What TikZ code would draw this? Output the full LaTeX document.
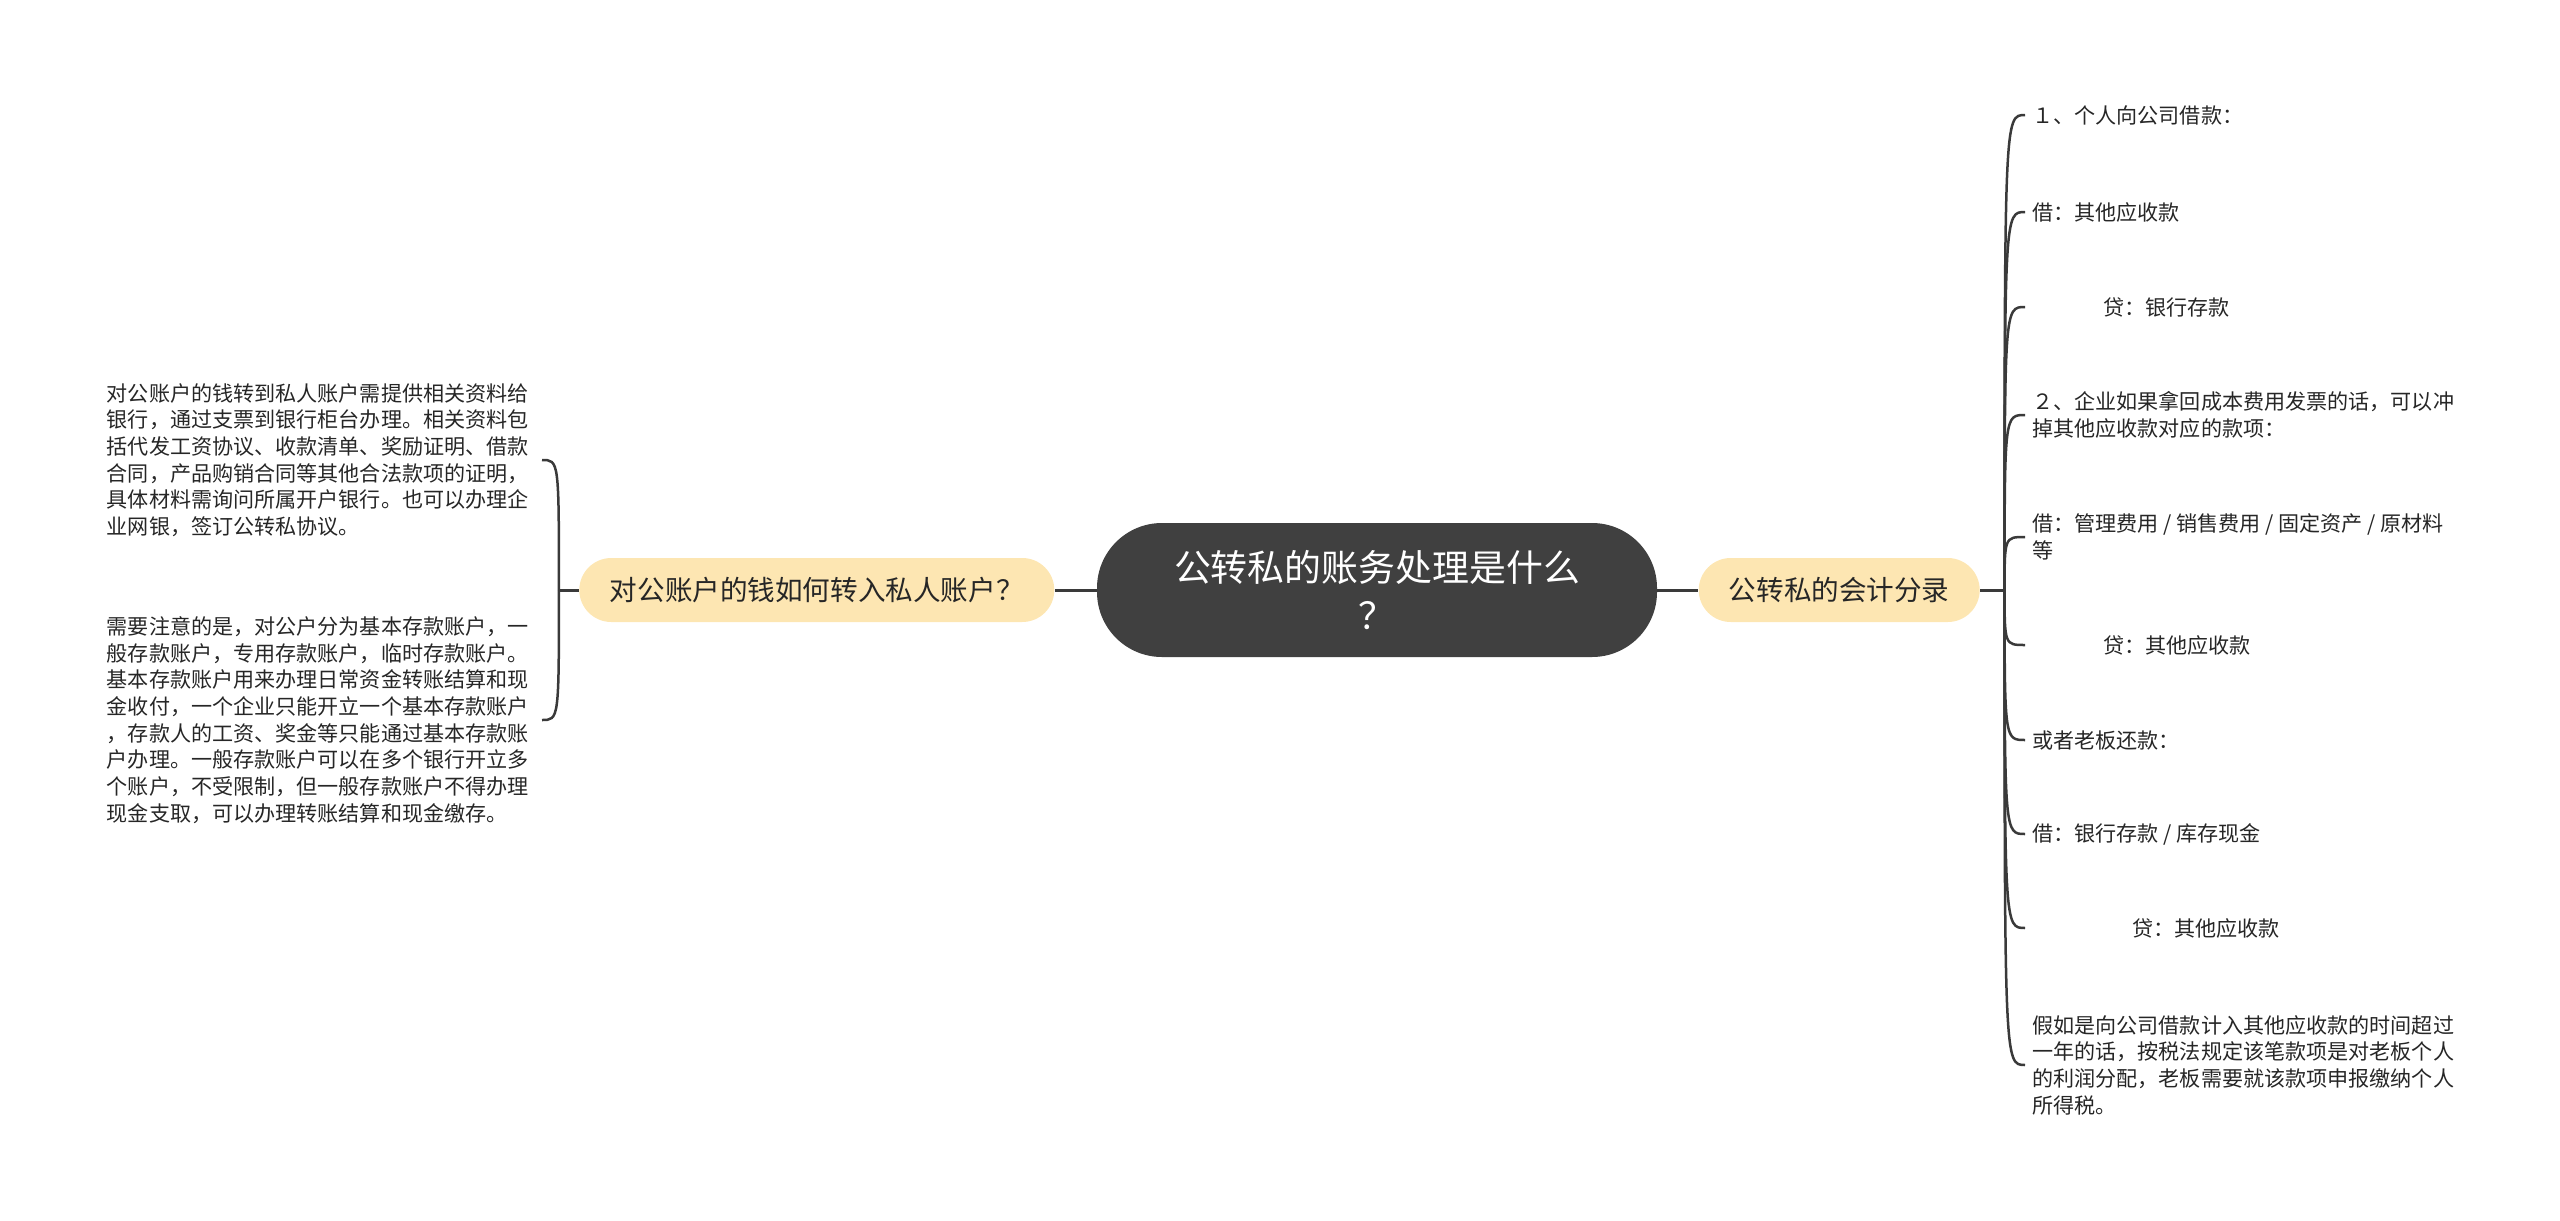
\documentclass[tikz,border=0pt]{standalone}
\usepackage{fontspec}
\setmainfont{Noto Sans CJK SC}
\usetikzlibrary{positioning}
\definecolor{rootgray}{HTML}{404040}
\definecolor{topicbg}{HTML}{FDE6B2}
\definecolor{linegray}{HTML}{3A3A3A}
\definecolor{leaftext}{HTML}{262626}

\begin{document}
\begin{tikzpicture}
  [x=0.2mm, y=-0.2mm,
   root/.style={fill=rootgray, text=white, rounded corners=13mm,
     minimum width=112mm, minimum height=26.8mm, align=center,
     font=\fontsize{21}{27}\selectfont},
   topic/.style={fill=topicbg, rounded corners=6.4mm, minimum height=12.8mm,
     text=leaftext, font=\fontsize{15.7}{18}\selectfont},
   leaf/.style={align=left, inner xsep=1.4mm, text=leaftext,
     font=\fontsize{12}{15.2}\selectfont},
   link/.style={draw=linegray, line width=0.6mm},
   branch/.style={draw=linegray, line width=0.5mm}]
\useasboundingbox (0,0) rectangle (2560,1221);

\node[root] (root) at (1377,590) {公转私的账务处理是什么\\？};
\node[topic, minimum width=95mm, left=8.4mm of root] (left) {对公账户的钱如何转入私人账户？};
\node[topic, minimum width=56.2mm, right=8.2mm of root] (right) {公转私的会计分录};

\coordinate[left=4mm of left.west] (lt);
\coordinate[right=4.9mm of right.east] (rt);

% left side
\node[leaf, anchor=east, inner xsep=2.6mm] (l1) at (542,460) {对公账户的钱转到私人账户需提供相关资料给\\银行，通过支票到银行柜台办理。相关资料包\\括代发工资协议、收款清单、奖励证明、借款\\合同，产品购销合同等其他合法款项的证明，\\具体材料需询问所属开户银行。也可以办理企\\业网银，签订公转私协议。};
\node[leaf, anchor=east, inner xsep=2.6mm] (l2) at (542,720) {需要注意的是，对公户分为基本存款账户，一\\般存款账户，专用存款账户，临时存款账户。\\基本存款账户用来办理日常资金转账结算和现\\金收付，一个企业只能开立一个基本存款账户\\，存款人的工资、奖金等只能通过基本存款账\\户办理。一般存款账户可以在多个银行开立多\\个账户，不受限制，但一般存款账户不得办理\\现金支取，可以办理转账结算和现金缴存。};

% right side
\node[leaf, anchor=west] (r1) at (2025,115) {１、个人向公司借款：};
\node[leaf, anchor=west] (r2) at (2025,212) {借：其他应收款};
\node[leaf, anchor=west] (r3) at (2025,307) {\hspace*{14.2mm}贷：银行存款};
\node[leaf, anchor=west] (r4) at (2025,415) {２、企业如果拿回成本费用发票的话，可以冲\\掉其他应收款对应的款项：};
\node[leaf, anchor=west] (r5) at (2025,537) {借：管理费用 / 销售费用 / 固定资产 / 原材料\\等};
\node[leaf, anchor=west] (r6) at (2025,645) {\hspace*{14.2mm}贷：其他应收款};
\node[leaf, anchor=west] (r7) at (2025,740) {或者老板还款：};
\node[leaf, anchor=west] (r8) at (2025,834) {借：银行存款 / 库存现金};
\node[leaf, anchor=west] (r9) at (2025,928) {\hspace*{20mm}贷：其他应收款};
\node[leaf, anchor=west] (r10) at (2025,1065) {假如是向公司借款计入其他应收款的时间超过\\一年的话，按税法规定该笔款项是对老板个人\\的利润分配，老板需要就该款项申报缴纳个人\\所得税。};

\draw[link] (root) -- (left);
\draw[link] (root) -- (right);
\draw[link] (left.west) -- (lt);
\draw[link] (right.east) -- (rt);
\foreach \n in {1,2}
  \draw[branch] (lt) .. controls (lt |- l\n.east) .. (l\n.east);
\foreach \n in {1,...,10}
  \draw[branch] (rt) .. controls (rt |- r\n.west) .. (r\n.west);
\end{tikzpicture}
\end{document}
